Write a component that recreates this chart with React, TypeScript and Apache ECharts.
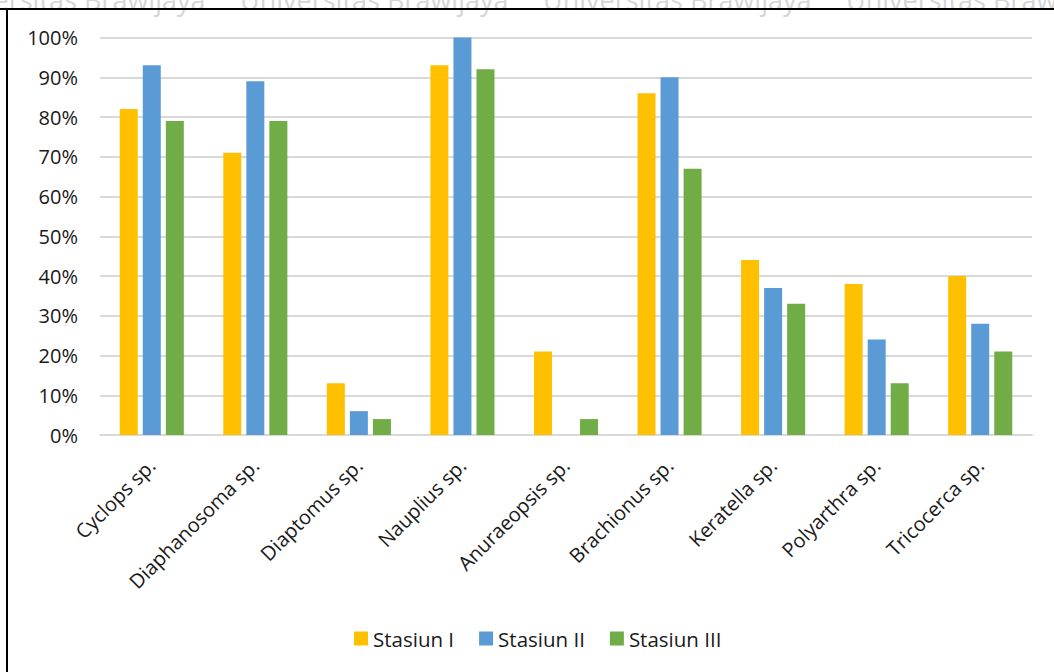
import React, { useEffect, useRef } from "react";
import * as echarts from "echarts";

const categories = [
  "Cyclops sp.",
  "Diaphanosoma sp.",
  "Diaptomus sp.",
  "Nauplius sp.",
  "Anuraeopsis sp.",
  "Brachionus sp.",
  "Keratella sp.",
  "Polyarthra sp.",
  "Tricocerca sp.",
];

const stasiunI = [82, 71, 13, 93, 21, 86, 44, 38, 40];
const stasiunII = [93, 89, 6, 100, 0, 90, 37, 24, 28];
const stasiunIII = [79, 79, 4, 92, 4, 67, 33, 13, 21];

const seriesNames = ["Stasiun I", "Stasiun II", "Stasiun III"];
const seriesColors = ["#FFC000", "#5B9BD5", "#70AD47"];

const watermarkText = "Universitas Brawijaya";

const FONT = "'Open Sans', 'Noto Sans', sans-serif";

export default function App() {
  const ref = useRef<HTMLDivElement>(null);

  useEffect(() => {
    document.body.style.margin = "0";
    if (!ref.current) return;
    const chart = echarts.init(ref.current, undefined, { renderer: "svg" });

    const values = [stasiunI, stasiunII, stasiunIII];

    chart.setOption({
      animation: false,
      backgroundColor: "#ffffff",
      textStyle: { fontFamily: FONT },
      grid: { left: 100, right: 22, top: 37.5, bottom: 237 },
      legend: {
        top: 628,
        left: 354,
        padding: 0,
        itemWidth: 14,
        itemHeight: 14,
        itemGap: 25,
        icon: "rect",
        textStyle: { fontSize: 20.5, color: "#1a1a1a", fontFamily: FONT },
        data: seriesNames,
      },
      xAxis: {
        type: "category",
        data: categories,
        axisLine: { lineStyle: { color: "#d9d9d9", width: 2 } },
        axisTick: { show: false },
        axisLabel: {
          interval: 0,
          rotate: 45,
          fontSize: 20,
          color: "#1a1a1a",
          margin: 27,
          fontFamily: FONT,
        },
      },
      yAxis: {
        type: "value",
        min: 0,
        max: 100,
        interval: 10,
        axisLine: { show: false },
        axisTick: { show: false },
        splitLine: { lineStyle: { color: "#d9d9d9", width: 2 } },
        axisLabel: {
          formatter: "{value}%",
          fontSize: 20,
          color: "#1a1a1a",
          margin: 22,
          fontFamily: FONT,
        },
      },
      series: seriesNames.map((name, i) => ({
        name,
        type: "bar",
        data: values[i],
        barWidth: 18,
        barGap: "28%",
        itemStyle: { color: seriesColors[i] },
      })),
      graphic: [
        {
          type: "group",
          z: 10,
          children: [0, 1, 2, 3, 4].map((k) => ({
            type: "text",
            x: -63 + k * 303,
            y: 13,
            style: {
              text: watermarkText,
              fontSize: 27,
              fontFamily: FONT,
              fill: "#d6d6d6",
              verticalAlign: "bottom",
            },
          })),
        },
        {
          type: "line",
          z: 20,
          shape: { x1: 0, y1: 9, x2: 1054, y2: 9 },
          style: { stroke: "#000", lineWidth: 2 },
        },
        {
          type: "line",
          z: 20,
          shape: { x1: 7, y1: 9, x2: 7, y2: 672 },
          style: { stroke: "#000", lineWidth: 2 },
        },
      ],
    });

    return () => chart.dispose();
  }, []);

  return <div ref={ref} style={{ width: 1054, height: 672 }} />;
}
